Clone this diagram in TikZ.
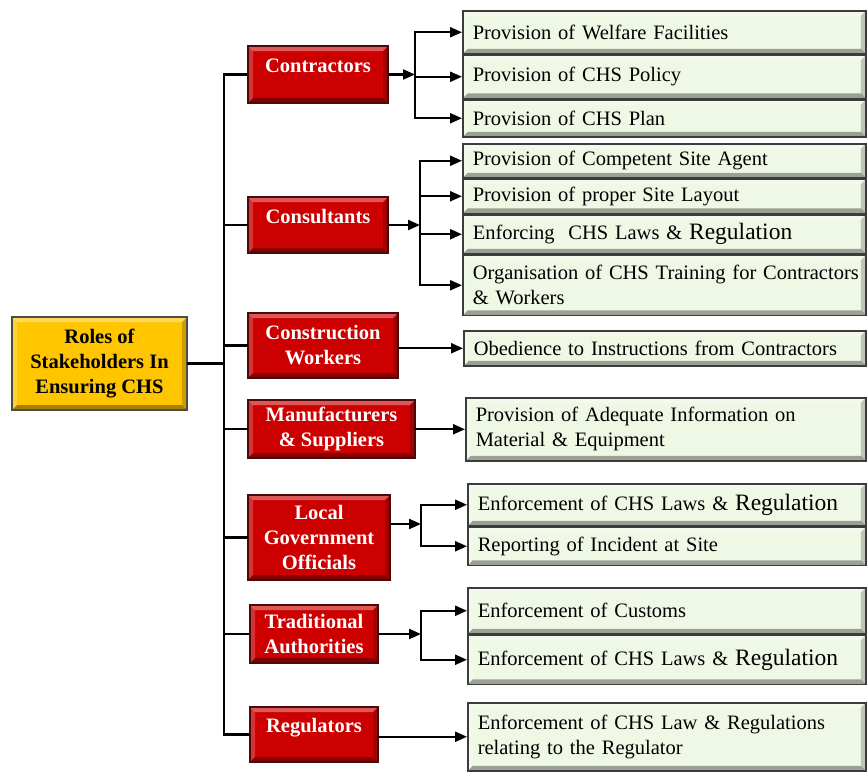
\documentclass[tikz,border=0pt]{standalone}
\usepackage{fontspec}
\setmainfont{Liberation Serif}
\usetikzlibrary{positioning,arrows.meta}

\definecolor{rolered}{HTML}{CC0000}
\definecolor{roleborder}{HTML}{4A0A0A}
\definecolor{rootgold}{HTML}{FFC600}
\definecolor{dutygreen}{HTML}{EEF8E4}
\definecolor{dutyborder}{HTML}{3C3C3C}

\tikzset{
	bevel/.style={path picture={
		\coordinate (bvnw) at (path picture bounding box.north west);
		\coordinate (bvse) at (path picture bounding box.south east);
		\fill[white,opacity=.35] (bvnw) -- (bvnw -| bvse) -- ++(-5pt,-5pt) -- ([shift={(5pt,-5pt)}]bvnw) -- cycle;
		\fill[white,opacity=.2] (bvnw) -- ([shift={(5pt,-5pt)}]bvnw) -- ([shift={(5pt,5pt)}]bvnw |- bvse) -- (bvnw |- bvse) -- cycle;
		\fill[black,opacity=.35] (bvnw |- bvse) -- (bvse) -- ++(-5pt,5pt) -- ([shift={(5pt,5pt)}]bvnw |- bvse) -- cycle;
		\fill[black,opacity=.2] (bvnw -| bvse) -- (bvse) -- ++(-5pt,5pt) -- ([shift={(-5pt,-5pt)}]bvnw -| bvse) -- cycle;
	}},
	root/.style={draw=black!70, line width=1.5pt, fill=rootgold, bevel, align=center, inner sep=2pt,
		font=\fontsize{20.5}{25}\selectfont\bfseries},
	role/.style={draw=roleborder, line width=1.5pt, fill=rolered, bevel, text=white, align=center, inner sep=2pt,
		font=\fontsize{20.5}{25}\selectfont\bfseries},
	duty/.style={draw=dutyborder, line width=1.5pt, fill=dutygreen, bevel, align=left, inner xsep=10pt, inner ysep=2pt,
		text width=#1, font=\fontsize{20.5}{25}\selectfont},
	duty/.default=383pt,
	link/.style={line width=2.2pt, line cap=rect},
}
\newcommand{\bigreg}{{\fontsize{23.5}{25}\selectfont Regulation}}

\begin{document}
\begin{tikzpicture}[x=1pt,y=-1pt,>={Triangle[length=12pt,width=10pt]}]
	\useasboundingbox (0,0) rectangle (867,772);
	% root and stakeholders
	\node[root, minimum width=175pt, minimum height=93pt] (roles) at (99.5,363.5) {Roles of\\Stakeholders In\\Ensuring CHS};
	\node[role, minimum width=140pt, minimum height=57pt] (contr) at (318,74.5) {Contractors\\[-7pt]};
	\node[role, minimum width=140pt, minimum height=56pt] (consu) at (318,225) {Consultants\\[-7pt]};
	\node[role, minimum width=150pt, minimum height=65pt] (worke) at (323,345.5) {Construction\\Workers};
	\node[role, minimum width=167pt, minimum height=58pt] (manuf) at (331.5,429) {Manufacturers\\\& Suppliers};
	\node[role, minimum width=142pt, minimum height=85pt] (local) at (319,537.5) {Local\\Government\\Officials};
	\node[role, minimum width=128pt, minimum height=58pt] (tradi) at (314,634) {Traditional\\Authorities};
	\node[role, minimum width=128pt, minimum height=55pt] (regul) at (314,734.5) {Regulators\\[-7pt]};
	% duties
	\node[duty, minimum height=43pt, anchor=north west] (w11) at (462,10) {Provision of Welfare Facilities};
	\node[duty, minimum height=43pt] (w12) [below=0pt of w11] {Provision of CHS Policy};
	\node[duty, minimum height=37pt] (w13) [below=0pt of w12] {Provision of CHS Plan};
	\node[duty, minimum height=34pt, anchor=north west] (w21) at (462,143) {Provision of Competent Site Agent};
	\node[duty, minimum height=34pt] (w22) [below=0pt of w21] {Provision of proper Site Layout};
	\node[duty, minimum height=39pt] (w23) [below=0pt of w22] {Enforcing\ \ CHS Laws \& \bigreg};
	\node[duty, minimum height=60pt] (w24) [below=0pt of w23] {\mbox{Organisation of CHS Training for Contractors}\\\& Workers};
	\node[duty=382pt, minimum height=35pt, anchor=north west] (w31) at (463,330) {Obedience to Instructions from Contractors};
	\node[duty=380pt, minimum height=63pt, anchor=north west] (w41) at (465,397) {Provision of Adequate Information on\\Material \& Equipment};
	\node[duty=378pt, minimum height=42pt, anchor=north west] (w51) at (467,483) {Enforcement of CHS Laws \& \bigreg};
	\node[duty=378pt, minimum height=38pt] (w52) [below=0pt of w51] {Reporting of Incident at Site};
	\node[duty=378pt, minimum height=46pt, anchor=north west] (w61) at (467,587) {Enforcement of Customs};
	\node[duty=378pt, minimum height=49pt] (w62) [below=0pt of w61] {Enforcement of CHS Laws \& \bigreg};
	\node[duty=378pt, minimum height=68pt, anchor=north west] (w71) at (467,702) {Enforcement of CHS Law \& Regulations\\relating to the Regulator};
	% trunk
	\coordinate (trunk) at (224,365);
	\draw[link] (roles.east) -- (roles.east -| trunk);
	\draw[link] (contr.west) -| (trunk |- regul.west) -- (regul.west);
	\foreach \r in {consu,worke,manuf,local,tradi}
		\draw[link] (trunk |- \r.west) -- (\r.west);
	% forks
	\coordinate (fork1) at (415,75);
	\coordinate (fork2) at (420,222);
	\coordinate (fork5) at (421,524);
	\coordinate (fork6) at (421,634);
	\draw[link,->] (contr.east) -- (contr.east -| fork1);
	\draw[link] (fork1 |- w11.west) -- (fork1 |- w13.west);
	\foreach \w in {w11,w12,w13}
		\draw[link,->] (fork1 |- \w.west) -- (\w.west);
	\draw[link,->] (consu.east) -- (consu.east -| fork2);
	\draw[link] (fork2 |- w21.west) -- (fork2 |- w24.west);
	\foreach \w in {w21,w22,w23,w24}
		\draw[link,->] (fork2 |- \w.west) -- (\w.west);
	\draw[link,->] (worke.east |- w31.west) -- (w31.west);
	\draw[link,->] (manuf.east |- w41.west) -- (w41.west);
	\draw[link,->] (local.east |- fork5) -- (fork5);
	\draw[link] (fork5 |- w51.west) -- (fork5 |- w52.west);
	\foreach \w in {w51,w52}
		\draw[link,->] (fork5 |- \w.west) -- (\w.west);
	\draw[link,->] (tradi.east) -- (tradi.east -| fork6);
	\draw[link] (fork6 |- w61.west) -- (fork6 |- w62.west);
	\foreach \w in {w61,w62}
		\draw[link,->] (fork6 |- \w.west) -- (\w.west);
	\draw[link,->] (regul.east |- w71.west) -- (w71.west);
\end{tikzpicture}
\end{document}
